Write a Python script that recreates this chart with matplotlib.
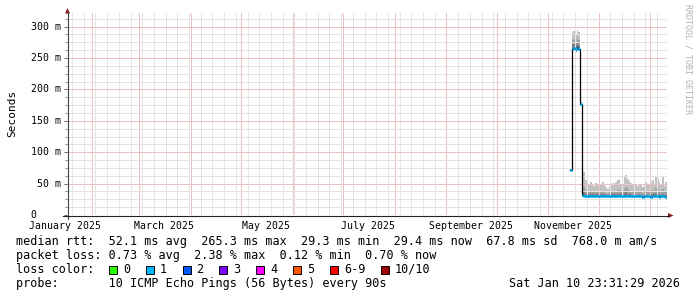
"""SmokePing style latency graph (one year view)"""

import matplotlib
matplotlib.use('Agg')
import matplotlib.pyplot as plt
import matplotlib.dates as mdates
from matplotlib.ticker import MultipleLocator, NullFormatter
from matplotlib.lines import Line2D
from matplotlib.patches import Rectangle, Polygon
import numpy as np
import pandas as pd

W, H = 697, 297
FONT = 'DejaVu Sans Mono'

# ---- data (seconds) ----
days = pd.date_range('2025-11-14', '2026-01-10', freq='D')

median = [0.071, 0.264, 0.266, 0.265, 0.267, 0.264, 0.177,
          0.0312, 0.0308, 0.0305, 0.0310, 0.0306, 0.0303, 0.0301, 0.0304, 0.0307, 0.0302,
          0.0300, 0.0305, 0.0309, 0.0303, 0.0298, 0.0301, 0.0304, 0.0302, 0.0299, 0.0297,
          0.0300, 0.0303, 0.0306, 0.0301, 0.0298, 0.0296, 0.0299, 0.0302, 0.0300, 0.0297,
          0.0295, 0.0298, 0.0301, 0.0304, 0.0299, 0.0296, 0.0294, 0.0297, 0.0300, 0.0298,
          0.0295, 0.0293, 0.0296, 0.0299, 0.0297, 0.0295, 0.0294, 0.0296, 0.0298, 0.0295,
          0.0294]
smoke_min = [0.070, 0.261, 0.262, 0.260, 0.263, 0.261, 0.176,
             0.0300, 0.0298, 0.0296, 0.0299, 0.0297, 0.0294, 0.0293, 0.0295, 0.0297, 0.0294,
             0.0292, 0.0296, 0.0299, 0.0294, 0.0291, 0.0293, 0.0295, 0.0294, 0.0292, 0.0290,
             0.0292, 0.0295, 0.0297, 0.0293, 0.0291, 0.0289, 0.0291, 0.0294, 0.0292, 0.0290,
             0.0288, 0.0291, 0.0293, 0.0296, 0.0292, 0.0289, 0.0287, 0.0290, 0.0292, 0.0291,
             0.0288, 0.0286, 0.0289, 0.0291, 0.0290, 0.0288, 0.0287, 0.0289, 0.0291, 0.0288,
             0.0287]
smoke_dark = [0.072, 0.272, 0.273, 0.270, 0.274, 0.271, 0.178,
              0.034, 0.036, 0.034, 0.034, 0.033, 0.034, 0.033, 0.033, 0.034, 0.033,
              0.032, 0.033, 0.034, 0.033, 0.032, 0.032, 0.033, 0.033, 0.034, 0.033,
              0.033, 0.034, 0.035, 0.033, 0.032, 0.035, 0.036, 0.034, 0.034, 0.033,
              0.032, 0.033, 0.032, 0.032, 0.033, 0.032, 0.031, 0.032, 0.034, 0.032,
              0.032, 0.033, 0.034, 0.033, 0.035, 0.034, 0.033, 0.032, 0.034, 0.031,
              0.032]
smoke_mid = [0.073, 0.280, 0.279, 0.276, 0.281, 0.278, 0.179,
             0.040, 0.043, 0.039, 0.038, 0.037, 0.039, 0.038, 0.036, 0.038, 0.037,
             0.036, 0.038, 0.039, 0.037, 0.035, 0.035, 0.037, 0.038, 0.039, 0.037,
             0.039, 0.040, 0.041, 0.038, 0.037, 0.042, 0.044, 0.041, 0.039, 0.038,
             0.037, 0.039, 0.037, 0.036, 0.038, 0.037, 0.035, 0.037, 0.039, 0.037,
             0.036, 0.038, 0.040, 0.038, 0.043, 0.041, 0.039, 0.037, 0.042, 0.036,
             0.038]
smoke_max = [0.075, 0.290, 0.293, 0.288, 0.295, 0.291, 0.180,
             0.062, 0.068, 0.055, 0.050, 0.047, 0.052, 0.049, 0.046, 0.051, 0.048,
             0.045, 0.050, 0.053, 0.047, 0.044, 0.042, 0.046, 0.049, 0.051, 0.048,
             0.052, 0.055, 0.057, 0.050, 0.047, 0.060, 0.064, 0.058, 0.054, 0.051,
             0.049, 0.052, 0.048, 0.046, 0.050, 0.047, 0.044, 0.048, 0.053, 0.049,
             0.047, 0.051, 0.055, 0.050, 0.062, 0.058, 0.052, 0.049, 0.060, 0.046,
             0.052]
loss = [1] * len(days)

loss_labels = ['0', '1', '2', '3', '4', '5', '6-9', '10/10']
loss_colors = ['#26ff00', '#00b8ff', '#0059ff', '#7e00ff', '#ff00ff', '#ff5500', '#ff0000', '#a10000']

month_starts = ['2025-01-01', '2025-03-01', '2025-05-01', '2025-07-01', '2025-09-01', '2025-11-01']
month_labels = ['January 2025', 'March 2025', 'May 2025', 'July 2025', 'September 2025', 'November 2025']

y_ticks = [0, 0.05, 0.10, 0.15, 0.20, 0.25, 0.30]
y_labels = ['0', '50 m', '100 m', '150 m', '200 m', '250 m', '300 m']

t_start = pd.Timestamp('2025-01-16 23:31:29')
t_end = pd.Timestamp('2026-01-10 23:31:29')

legend_rows = [
    'median rtt:  52.1 ms avg  265.3 ms max  29.3 ms min  29.4 ms now  67.8 ms sd  768.0 m am/s',
    'packet loss: 0.73 % avg  2.38 % max  0.12 % min  0.70 % now',
]
probe_text = 'probe:       10 ICMP Echo Pings (56 Bytes) every 90s'
stamp_text = 'Sat Jan 10 23:31:29 2026'


def fx(p):
    return p / W


def fy(p):
    return 1 - p / H


fig = plt.figure(figsize=(W / 100, H / 100), dpi=100, facecolor='white')
ax = fig.add_axes([fx(67), fy(215), 600 / W, 202 / H], facecolor='white')

# smoke + median
edges = pd.DatetimeIndex(list(days) + [t_end])
def ext(a):
    return np.append(a, a[-1])

ax.fill_between(edges, ext(smoke_min), ext(smoke_dark), step='post', color='#7c7c7c', lw=0, zorder=1)
ax.fill_between(edges, ext(smoke_dark), ext(smoke_mid), step='post', color='#a0a0a0', lw=0, zorder=1)
ax.fill_between(edges, ext(smoke_mid), ext(smoke_max), step='post', color='#c2c2c2', lw=0, zorder=1)
ax.step(edges, ext(median), where='post', color='black', lw=0.9, zorder=3)
ax.hlines(median, edges[:-1], edges[1:], colors=[loss_colors[c] for c in loss], lw=2.0, zorder=4)

ax.set_xlim(t_start, t_end)
ax.set_ylim(0, 202 / 628)

# grid (rrdtool dotted lines rendered as light solid lines)
ax.xaxis.set_major_locator(mdates.MonthLocator())
ax.xaxis.set_minor_locator(mdates.WeekdayLocator(byweekday=mdates.MO))
ax.xaxis.set_major_formatter(NullFormatter())
ax.yaxis.set_major_locator(MultipleLocator(0.05))
ax.yaxis.set_minor_locator(MultipleLocator(0.0125))
ax.yaxis.set_major_formatter(NullFormatter())
ax.set_axisbelow(False)
ax.grid(True, which='minor', color='#e3e3e3', ls='-', lw=0.72)
ax.grid(True, which='major', color='#f0c0c0', ls='-', lw=0.72)
ax.tick_params(axis='x', which='both', length=0)
ax.tick_params(axis='y', which='major', length=2.5, width=0.72, color='#666666', labelleft=False)
ax.tick_params(axis='y', which='minor', length=1.5, width=0.72, color='#888888')
for s in ax.spines.values():
    s.set_visible(False)

# axis lines and arrows
fig.add_artist(Line2D([fx(67.5), fx(67.5)], [fy(219), fy(12)], color='#444444', lw=0.8))
fig.add_artist(Line2D([fx(63), fx(669)], [fy(215.5), fy(215.5)], color='#222222', lw=0.8))
fig.add_artist(Polygon([(fx(65), fy(13.5)), (fx(70), fy(13.5)), (fx(67.5), fy(8))],
                       closed=True, transform=fig.transFigure, color='#8b1a1a', lw=0))
fig.add_artist(Polygon([(fx(668), fy(213)), (fx(668), fy(218)), (fx(673.5), fy(215.5))],
                       closed=True, transform=fig.transFigure, color='#8b1a1a', lw=0))

# month labels centred half a month after month start
for m, lab in zip(month_starts, month_labels):
    ax.annotate(lab, xy=(pd.Timestamp(m) + pd.Timedelta(days=15), 0), xycoords=('data', 'axes fraction'),
                xytext=(0, -11 * 0.72), textcoords='offset points', ha='center', va='center',
                fontsize=7.1, family=FONT, annotation_clip=False)

for v, lab in zip(y_ticks, y_labels):
    if lab == '0':
        ax.annotate(lab, xy=(0, v), xycoords=('axes fraction', 'data'), xytext=(-36.5 * 0.72, 0),
                    textcoords='offset points', ha='left', va='center', fontsize=7.1, family=FONT)
    else:
        ax.annotate(lab, xy=(0, v), xycoords=('axes fraction', 'data'), xytext=(-6 * 0.72, 0),
                    textcoords='offset points', ha='right', va='center', fontsize=7.1, family=FONT)

fig.text(fx(12), fy(113), 'Seconds', rotation=90, ha='center', va='center', fontsize=8, family=FONT)
fig.text(fx(688), fy(4), 'RRDTOOL / TOBI OETIKER', rotation=270, ha='center', va='top',
         fontsize=6, family=FONT, color='#b0b0b0')

# legend block
fig.text(fx(16), fy(241), legend_rows[0], ha='left', va='center', fontsize=8.5, family=FONT)
fig.text(fx(16), fy(255.5), legend_rows[1], ha='left', va='center', fontsize=8.5, family=FONT)
fig.text(fx(16), fy(269.5), 'loss color:', ha='left', va='center', fontsize=8.5, family=FONT)
x = 109
for lab, col in zip(loss_labels, loss_colors):
    fig.add_artist(Rectangle((fx(x), fy(273.5)), 8 / W, 8 / H, transform=fig.transFigure,
                             facecolor=col, edgecolor='black', lw=0.7))
    fig.text(fx(x + 14), fy(269.5), lab, ha='left', va='center', fontsize=8.5, family=FONT)
    x += 14 + len(lab) * 7.1 + 15.7
fig.text(fx(16), fy(283.5), probe_text, ha='left', va='center', fontsize=8.5, family=FONT)
fig.text(fx(680), fy(283.5), stamp_text, ha='right', va='center', fontsize=8.5, family=FONT)

fig.savefig('out.png', dpi=100, facecolor='white')
